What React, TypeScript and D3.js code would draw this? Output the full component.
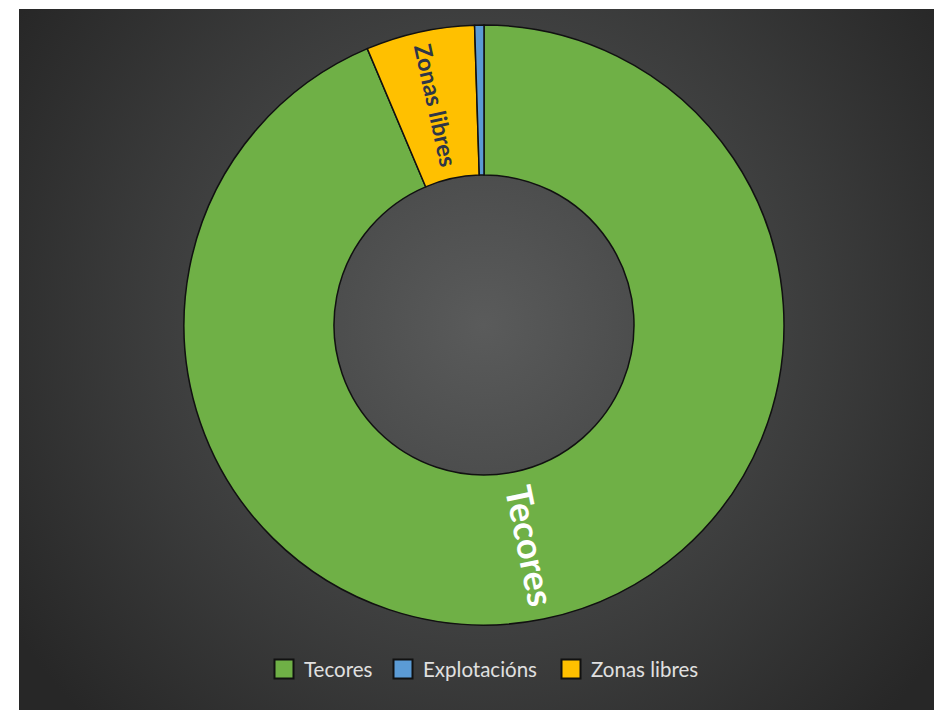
import React from "react";
import * as d3 from "d3";

const categories = ["Tecores", "Explotacións", "Zonas libres"];
const values = [93.64, 0.5, 5.86];
const colors = ["#6fb046", "#5b9bd5", "#ffc000"];
// drawing order clockwise from 12 o'clock
const drawOrder = [0, 2, 1];

const W = 934;
const H = 710;
const cx = 484;
const cy = 325;
const outerR = 300;
const innerR = 150;

export default function App() {
  const pie = d3
    .pie<number>()
    .sort(null)
    .value((i) => values[i]);
  const arcs = pie(drawOrder);
  const arc = d3.arc<d3.PieArcDatum<number>>().innerRadius(innerR).outerRadius(outerR);

  const legendX = [274, 393, 561];
  const font = "Lato, 'Open Sans', sans-serif";

  return (
    <svg
      width={W}
      height={H}
      style={{ position: "absolute", left: 0, top: 0, display: "block" }}
    >
      <defs>
        <radialGradient id="bg" cx={cx} cy={cy} r={560} gradientUnits="userSpaceOnUse">
          <stop offset="0" stopColor="#5a5b5b" />
          <stop offset="0.45" stopColor="#434444" />
          <stop offset="1" stopColor="#272727" />
        </radialGradient>
      </defs>
      <rect x={0} y={0} width={W} height={H} fill="#ffffff" />
      <rect x={19} y={9} width={W - 19} height={H - 9} fill="url(#bg)" />
      <g transform={`translate(${cx},${cy})`}>
        {arcs.map((a) => (
          <path
            key={a.data}
            d={arc(a) || ""}
            fill={colors[a.data]}
            stroke="#111"
            strokeWidth={1.5}
          />
        ))}
        {arcs.map((a) => {
          const idx = a.data;
          if (idx === 1) return null;
          const [x, y] = arc.centroid(a);
          const mid = ((a.startAngle + a.endAngle) / 2) * (180 / Math.PI);
          const rot = idx === 0 ? mid - 90 : mid + 90;
          return (
            <text
              key={"l" + idx}
              transform={`translate(${x + (idx === 0 ? 2 : 0)},${y}) rotate(${rot})`}
              textAnchor="middle"
              dominantBaseline="central"
              fontFamily={font}
              fontWeight={700}
              fontSize={idx === 0 ? 36 : 23.5}
              fill={idx === 0 ? "#ffffff" : "#2e3648"}
            >
              {categories[idx]}
            </text>
          );
        })}
      </g>
      {categories.map((c, i) => (
        <g key={c} transform={`translate(${legendX[i]},659)`}>
          <rect x={0.5} y={0.5} width={19} height={19} fill={colors[i]} stroke="#111" strokeWidth={2} />
          <text
            x={30}
            y={10}
            dominantBaseline="central"
            fontFamily={font}
            fontSize={20.5}
            fill="#e0e0e0"
          >
            {c}
          </text>
        </g>
      ))}
    </svg>
  );
}
